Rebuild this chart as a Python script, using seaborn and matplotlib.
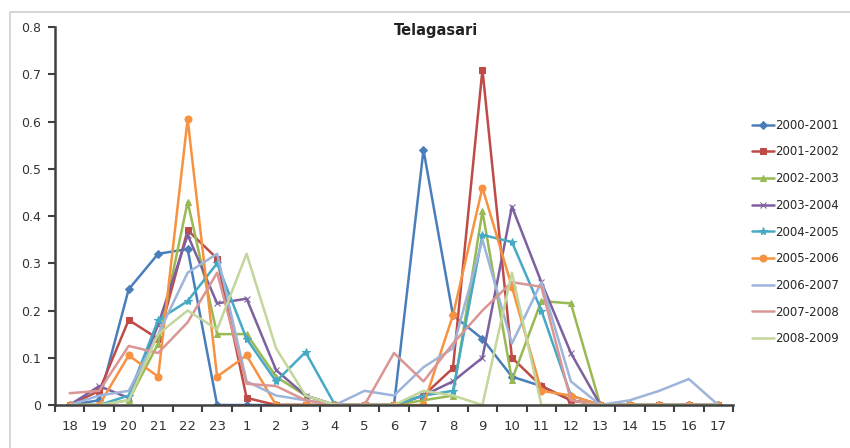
import matplotlib
matplotlib.use("Agg")
import matplotlib.pyplot as plt
import seaborn as sns
import pandas as pd
from matplotlib.patches import Rectangle

# Hours of the day, starting at 18:00
hours = ["18", "19", "20", "21", "22", "23", "1", "2", "3", "4", "5", "6",
         "7", "8", "9", "10", "11", "12", "13", "14", "15", "16", "17"]

seasons = ["2000-2001", "2001-2002", "2002-2003", "2003-2004", "2004-2005",
           "2005-2006", "2006-2007", "2007-2008", "2008-2009"]

s2000 = [0, 0.01, 0.245, 0.32, 0.33, 0.0, 0, 0, 0, 0, 0, 0,
         0.54, 0.19, 0.14, 0.06, 0.04, 0.01, 0, 0, 0, 0, 0]
s2001 = [0, 0.03, 0.18, 0.14, 0.37, 0.31, 0.015, 0.0, 0, 0, 0, 0,
         0.02, 0.078, 0.71, 0.10, 0.04, 0.01, 0, 0, 0, 0, 0]
s2002 = [0, 0, 0.01, 0.13, 0.43, 0.15, 0.15, 0.06, 0.02, 0, 0, 0,
         0.01, 0.02, 0.41, 0.053, 0.22, 0.215, 0, 0, 0, 0, 0]
s2003 = [0, 0.04, 0.015, 0.17, 0.36, 0.215, 0.225, 0.074, 0.02, 0, 0, 0,
         0.02, 0.05, 0.10, 0.42, 0.26, 0.11, 0, 0, 0, 0, 0]
s2004 = [0, 0, 0.02, 0.18, 0.22, 0.30, 0.14, 0.05, 0.112, 0, 0, 0,
         0.02, 0.03, 0.36, 0.345, 0.2, 0.02, 0, 0, 0, 0, 0]
s2005 = [0, 0, 0.105, 0.06, 0.605, 0.06, 0.105, 0.0, 0, 0, 0, 0,
         0.0, 0.19, 0.46, 0.25, 0.03, 0.02, 0, 0, 0, 0, 0]
s2006 = [0.0, 0.02, 0.03, 0.15, 0.28, 0.32, 0.05, 0.02, 0.01, 0, 0.03, 0.02,
         0.08, 0.12, 0.35, 0.13, 0.26, 0.05, 0, 0.01, 0.03, 0.055, 0]
s2007 = [0.025, 0.03, 0.125, 0.11, 0.175, 0.28, 0.045, 0.04, 0.01, 0, 0, 0.11,
         0.05, 0.13, 0.20, 0.26, 0.25, 0.01, 0, 0, 0, 0, 0]
s2008 = [0, 0, 0.01, 0.15, 0.20, 0.16, 0.32, 0.12, 0.02, 0, 0, 0,
         0.03, 0.02, 0.0, 0.28, 0.0, 0, 0, 0, 0, 0, 0]

series = [s2000, s2001, s2002, s2003, s2004, s2005, s2006, s2007, s2008]

colors = ["#4A7EBB", "#BE4B48", "#98B954", "#7D60A0", "#46AAC5",
          "#F69240", "#9DB5DA", "#D99694", "#C3D69B"]
markers = ["D", "s", "^", "x", "*", "o", None, None, None]
msizes = [4, 5, 5, 5, 6, 5, 0, 0, 0]

sns.set_style("white")
plt.rcParams["font.family"] = ["DejaVu Sans"]

fig = plt.figure(figsize=(8.5, 4.48), dpi=100)
ax = fig.add_axes([55 / 850, 43 / 448, 678 / 850, 378 / 448])

# light frame around the chart area
fig.patches.append(Rectangle((10 / 850, -0.05), 1.0, 1 - 12 / 448 + 0.05,
                             transform=fig.transFigure, fill=False,
                             edgecolor="#D0D0D0", linewidth=1.2))

for name, vals, col, mk, ms in zip(seasons, series, colors, markers, msizes):
    df = pd.DataFrame({"hour": hours, "value": vals})
    kw = dict(marker=mk, markersize=ms, markeredgecolor=col) if mk else {}
    sns.lineplot(data=df, x="hour", y="value", ax=ax, sort=False,
                 color=col, linewidth=1.8, label=name, **kw)

ax.set_xlim(-0.5, len(hours) - 0.5)
ax.set_ylim(0, 0.8)
ax.set_yticks([0, 0.1, 0.2, 0.3, 0.4, 0.5, 0.6, 0.7, 0.8])
ax.set_yticklabels(["0", "0.1", "0.2", "0.3", "0.4", "0.5", "0.6", "0.7", "0.8"])
ax.set_xticks(range(len(hours)))
ax.set_xticklabels(hours)
ax.set_xticks([i + 0.5 for i in range(-1, len(hours))], minor=True)
ax.set_xlabel("")
ax.set_ylabel("")

for side in ["top", "right"]:
    ax.spines[side].set_visible(False)
for side in ["left", "bottom"]:
    ax.spines[side].set_color("#404040")
    ax.spines[side].set_linewidth(1.8)

ax.tick_params(axis="y", which="major", direction="out", length=5, width=1.5,
               color="#404040", labelsize=9, labelcolor="#333333", pad=5, left=True)
ax.tick_params(axis="x", which="major", length=0, labelsize=9.5,
               labelcolor="#333333", pad=11)
ax.tick_params(axis="x", which="minor", direction="out", length=5, width=1.5,
               color="#404040", bottom=True)

fig.text(436 / 850, 1 - 30 / 448, "Telagasari", ha="center", va="center",
         fontsize=10.5, fontweight="bold", color="#222222")

ax.legend(loc="upper left", bbox_to_anchor=(747 / 850, 1 - 114 / 448),
          bbox_transform=fig.transFigure, frameon=False, fontsize=8.5,
          handlelength=1.9, handletextpad=0.1, labelspacing=1.16,
          borderaxespad=0)

fig.savefig("out.png", dpi=100, facecolor="white")
